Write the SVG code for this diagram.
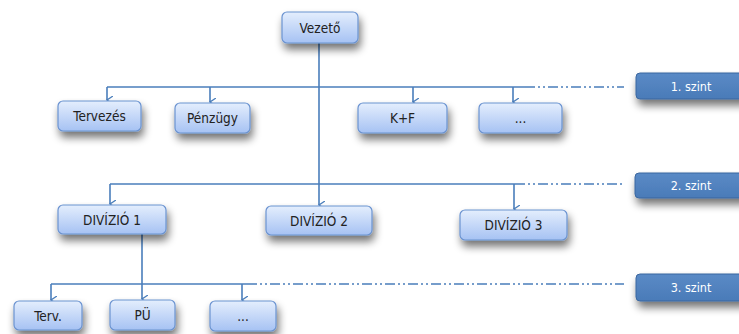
<svg xmlns="http://www.w3.org/2000/svg" width="739" height="334" viewBox="0 0 739 334">
  <defs>
    <linearGradient id="boxFill" x1="0" y1="0" x2="0" y2="1">
      <stop offset="0" stop-color="#e4eefd"/>
      <stop offset="1" stop-color="#a6c2f3"/>
    </linearGradient>
    <linearGradient id="tagFill" x1="0" y1="0" x2="0" y2="1">
      <stop offset="0" stop-color="#5a8ac6"/>
      <stop offset="1" stop-color="#4a7bb8"/>
    </linearGradient>
    <filter id="shadow" x="-30%" y="-30%" width="160%" height="200%">
      <feGaussianBlur in="SourceAlpha" stdDeviation="4"/>
      <feOffset dx="2" dy="6" result="b"/>
      <feComponentTransfer><feFuncA type="linear" slope="0.55"/></feComponentTransfer>
      <feMerge><feMergeNode/><feMergeNode in="SourceGraphic"/></feMerge>
    </filter>
    <marker id="arrow" markerWidth="8" markerHeight="8" refX="4" refY="6" orient="auto" markerUnits="userSpaceOnUse" viewBox="0 0 8 8">
      <path d="M0,0 L4,6 L8,0" fill="none" stroke="#4a7ebb" stroke-width="1.3"/>
    </marker>
  </defs>
  <style>
    .box { fill: url(#boxFill); stroke: #6b93d0; stroke-width: 1.2; filter: url(#shadow); }
    .tag { fill: url(#tagFill); stroke: #3b679f; stroke-width: 1; filter: url(#shadow); }
    .lbl { font-family: "DejaVu Sans Condensed", "Liberation Sans", sans-serif; font-stretch: condensed; font-size: 13.5px; fill: #222222; text-anchor: middle; }
    .tagl { font-family: "DejaVu Sans Condensed", "Liberation Sans", sans-serif; font-stretch: condensed; font-size: 12.5px; fill: #ffffff; text-anchor: middle; }
    .ln { stroke: #4a7ebb; stroke-width: 1.6; fill: none; }
    .arr { stroke: #4a7ebb; stroke-width: 1.6; fill: none; marker-end: url(#arrow); }
    .dd { stroke: #4a7ebb; stroke-width: 1.6; fill: none; stroke-dasharray: 10 3 2 3 2 3; }
  </style>

  <g id="connectors">
    <!-- trunk from the top box down to the second division -->
    <line class="arr" x1="319" y1="43" x2="319" y2="205"/>
    <!-- level 1 bus -->
    <line class="ln" x1="107" y1="87" x2="525" y2="87"/>
    <line class="arr" x1="107" y1="87" x2="107" y2="100"/>
    <line class="arr" x1="210" y1="87" x2="210" y2="102"/>
    <line class="arr" x1="413" y1="87" x2="413" y2="102"/>
    <line class="arr" x1="513" y1="87" x2="513" y2="102"/>
    <line class="dd" x1="525" y1="87" x2="624" y2="87"/>
    <!-- level 2 bus -->
    <line class="ln" x1="110" y1="184" x2="515" y2="184"/>
    <line class="arr" x1="110" y1="184" x2="110" y2="204"/>
    <line class="arr" x1="514" y1="184" x2="514" y2="209"/>
    <line class="dd" x1="515" y1="184" x2="624" y2="184"/>
    <!-- level 3 bus -->
    <line class="ln" x1="142" y1="234" x2="142" y2="284"/>
    <line class="ln" x1="51" y1="284" x2="247" y2="284"/>
    <line class="arr" x1="51" y1="284" x2="51" y2="300"/>
    <line class="arr" x1="142" y1="284" x2="142" y2="299"/>
    <line class="arr" x1="242" y1="284" x2="242" y2="300"/>
    <line class="dd" x1="247" y1="284" x2="624" y2="284"/>
  </g>

  <g id="vezeto">
    <rect class="box" x="282" y="12" width="76" height="31" rx="5"/>
    <text class="lbl" x="320" y="32.5">Vezető</text>
  </g>

  <g id="tervezes">
    <rect class="box" x="58" y="101" width="83" height="30" rx="5"/>
    <text class="lbl" x="99.5" y="121">Tervezés</text>
  </g>
  <g id="penzugy">
    <rect class="box" x="175" y="103" width="75" height="30" rx="5"/>
    <text class="lbl" x="212.5" y="123">Pénzügy</text>
  </g>
  <g id="kf">
    <rect class="box" x="358" y="103" width="89" height="30" rx="5"/>
    <text class="lbl" x="402.5" y="123">K+F</text>
  </g>
  <g id="egyeb1">
    <rect class="box" x="479" y="103" width="83" height="30" rx="5"/>
    <text class="lbl" x="520.5" y="123">...</text>
  </g>

  <g id="divizio1">
    <rect class="box" x="58" y="205" width="108" height="29" rx="5"/>
    <text class="lbl" x="112" y="224.5">DIVÍZIÓ 1</text>
  </g>
  <g id="divizio2">
    <rect class="box" x="266" y="206" width="106" height="29" rx="5"/>
    <text class="lbl" x="319" y="225.5">DIVÍZIÓ 2</text>
  </g>
  <g id="divizio3">
    <rect class="box" x="460" y="210" width="107" height="30" rx="5"/>
    <text class="lbl" x="513.5" y="230">DIVÍZIÓ 3</text>
  </g>

  <g id="terv">
    <rect class="box" x="14" y="301" width="68" height="29" rx="5"/>
    <text class="lbl" x="48" y="320.5">Terv.</text>
  </g>
  <g id="pu">
    <rect class="box" x="110" y="300" width="65" height="30" rx="5"/>
    <text class="lbl" x="142.5" y="320">PÜ</text>
  </g>
  <g id="egyeb3">
    <rect class="box" x="210" y="301" width="66" height="30" rx="5"/>
    <text class="lbl" x="243" y="321">...</text>
  </g>

  <g id="szint1">
    <rect class="tag" x="636" y="73" width="112" height="26" rx="4"/>
    <text class="tagl" x="691" y="90.5">1. szint</text>
  </g>
  <g id="szint2">
    <rect class="tag" x="635" y="173" width="112" height="25" rx="4"/>
    <text class="tagl" x="691" y="190">2. szint</text>
  </g>
  <g id="szint3">
    <rect class="tag" x="636" y="274" width="112" height="27" rx="4"/>
    <text class="tagl" x="691" y="292">3. szint</text>
  </g>
</svg>
